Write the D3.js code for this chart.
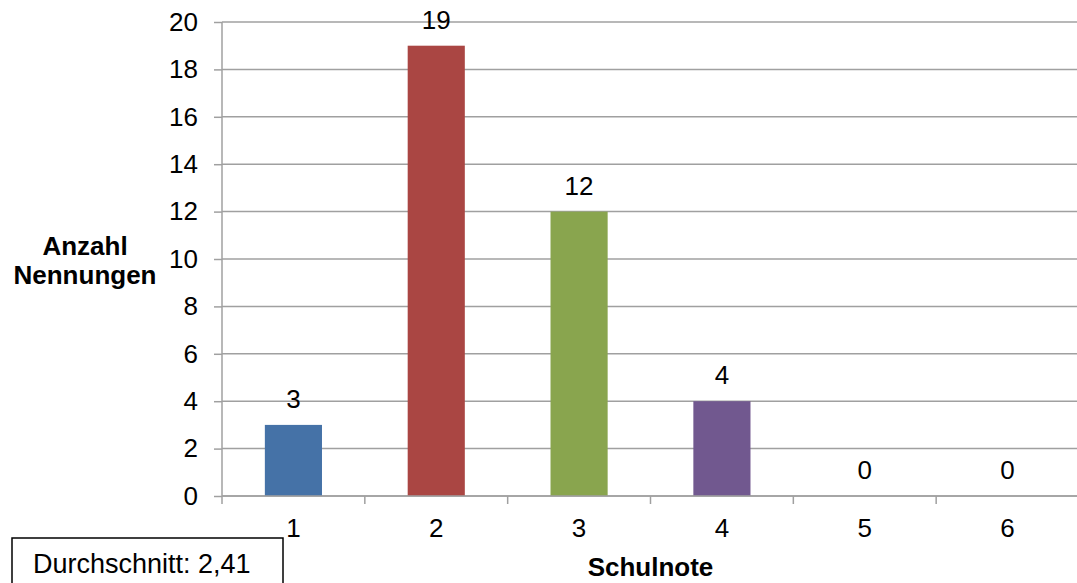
<!DOCTYPE html>
<html>
<head>
<meta charset="utf-8">
<script src="https://cdn.jsdelivr.net/npm/d3@7"></script>
<style>
  html, body { margin: 0; padding: 0; background: #fff; }
  svg { display: block; font-family: "Liberation Sans", Arial, sans-serif; }
</style>
</head>
<body>
<svg id="chart" width="1077" height="583"></svg>
<script>
// Schulnoten und Anzahl der Nennungen
const categories = ["1", "2", "3", "4", "5", "6"];
const counts = [3, 19, 12, 4, 0, 0];
const barColors = ["#4572A7", "#AA4643", "#89A54E", "#71588F", "#4198AF", "#DB843D"];
const yTicks = [0, 2, 4, 6, 8, 10, 12, 14, 16, 18, 20];
const yTitle = ["Anzahl", "Nennungen"];
const xTitle = "Schulnote";
const averageText = "Durchschnitt: 2,41";

const svg = d3.select("#chart");
const plot = { left: 222, right: 1079, top: 22, bottom: 496 };
const fontSize = 26;
const gridColor = "#a0a0a0";

const x = d3.scaleBand().domain(categories).range([plot.left, plot.right]).padding(0);
const y = d3.scaleLinear().domain([0, 20]).range([plot.bottom, plot.top]);

// horizontal gridlines
svg.append("g")
  .selectAll("line")
  .data(yTicks)
  .join("line")
  .attr("x1", plot.left)
  .attr("x2", plot.right)
  .attr("y1", d => y(d))
  .attr("y2", d => y(d))
  .attr("stroke", gridColor)
  .attr("stroke-width", 1.5);

// bars
const barW = x.bandwidth() * 0.4;
svg.append("g")
  .selectAll("rect")
  .data(counts)
  .join("rect")
  .attr("x", (d, i) => x(categories[i]) + (x.bandwidth() - barW) / 2)
  .attr("y", d => y(d))
  .attr("width", barW)
  .attr("height", d => y(0) - y(d))
  .attr("fill", (d, i) => barColors[i]);

// y axis
const yAxis = d3.axisLeft(y).tickValues(yTicks).tickSize(8).tickPadding(16).tickFormat(d3.format("d"));
const gy = svg.append("g").attr("transform", `translate(${plot.left},0)`).call(yAxis);
gy.select(".domain").remove();
gy.append("line")
  .attr("x1", 0).attr("x2", 0)
  .attr("y1", plot.top).attr("y2", plot.bottom + 8)
  .attr("stroke", gridColor).attr("stroke-width", 1.5);
gy.selectAll(".tick line").attr("stroke", gridColor).attr("stroke-width", 1.5);
gy.selectAll(".tick text")
  .attr("fill", "#000")
  .style("font-size", fontSize + "px")
  .style("font-family", "'Liberation Sans', Arial, sans-serif");

// x axis: ticks at category boundaries
const gx = svg.append("g");
gx.append("line")
  .attr("x1", plot.left).attr("x2", plot.right)
  .attr("y1", y(0)).attr("y2", y(0))
  .attr("stroke", gridColor).attr("stroke-width", 1.5);
gx.selectAll("line.bound")
  .data(categories.slice(1))
  .join("line")
  .attr("class", "bound")
  .attr("x1", d => x(d)).attr("x2", d => x(d))
  .attr("y1", y(0)).attr("y2", y(0) + 8)
  .attr("stroke", gridColor).attr("stroke-width", 1.5);
gx.selectAll("text")
  .data(categories)
  .join("text")
  .attr("x", d => x(d) + x.bandwidth() / 2)
  .attr("y", 537)
  .attr("text-anchor", "middle")
  .style("font-size", fontSize + "px")
  .text(d => d);

// value labels
svg.append("g")
  .selectAll("text")
  .data(counts)
  .join("text")
  .attr("x", (d, i) => x(categories[i]) + x.bandwidth() / 2)
  .attr("y", d => y(d) - 17)
  .attr("text-anchor", "middle")
  .style("font-size", fontSize + "px")
  .text(d => d);

// axis titles
svg.append("text")
  .attr("x", (plot.left + plot.right) / 2)
  .attr("y", 576)
  .attr("text-anchor", "middle")
  .style("font-size", fontSize + "px")
  .style("font-weight", "bold")
  .text(xTitle);

svg.append("g")
  .selectAll("text")
  .data(yTitle)
  .join("text")
  .attr("x", 85)
  .attr("y", (d, i) => 255 + i * 29)
  .attr("text-anchor", "middle")
  .style("font-size", fontSize + "px")
  .style("font-weight", "bold")
  .text(d => d);

// average box
svg.append("rect")
  .attr("x", 12).attr("y", 538)
  .attr("width", 271).attr("height", 80)
  .attr("fill", "#fff")
  .attr("stroke", "#000")
  .attr("stroke-width", 1.5);
svg.append("text")
  .attr("x", 33)
  .attr("y", 573)
  .style("font-size", "27px")
  .text(averageText);
</script>
</body>
</html>
